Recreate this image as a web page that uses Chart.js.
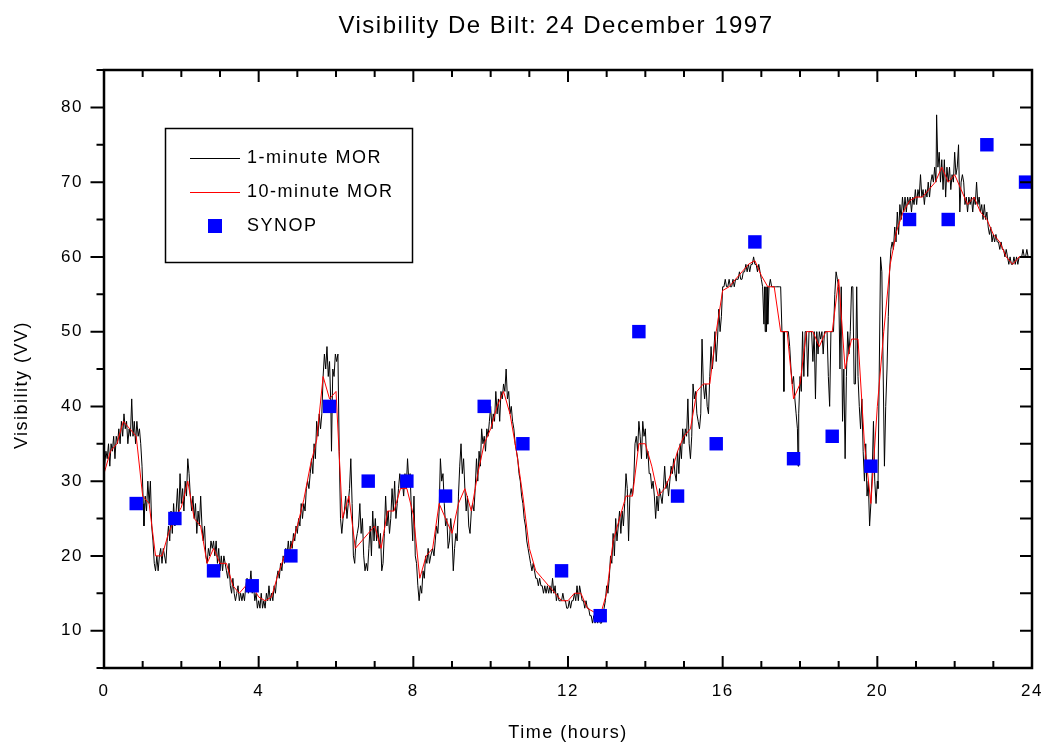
<!DOCTYPE html>
<html>
<head>
<meta charset="utf-8">
<title>Visibility De Bilt</title>
<script src="https://cdn.jsdelivr.net/npm/chart.js@4.4.1/dist/chart.umd.min.js"></script>
<style>
  html, body { margin: 0; padding: 0; background: #fff; }
  canvas { display: block; }
</style>
</head>
<body>
<canvas id="visChart" width="1043" height="742"></canvas>
<script>
// 1-minute MOR: minutes after 00:00 and the visibility at that minute
const minuteMarks = [
  0, 3, 5, 7, 9, 11, 13, 15, 17, 19,
  21, 23, 25, 27, 29, 31, 33, 35, 37, 39,
  41, 43, 45, 47, 49, 51, 53, 55, 57, 59,
  61, 62, 64, 66, 68, 70, 72, 74, 76, 78,
  80, 82, 84, 86, 88, 90, 92, 94, 96, 98,
  100, 102, 104, 106, 108, 110, 112, 114, 116, 118,
  120, 122, 124, 126, 128, 130, 132, 134, 136, 138,
  140, 142, 144, 146, 148, 150, 152, 154, 156, 158,
  160, 162, 164, 166, 168, 170, 172, 174, 176, 178,
  180, 182, 184, 186, 188, 190, 192, 194, 196, 198,
  200, 202, 204, 206, 208, 210, 212, 214, 216, 218,
  220, 222, 224, 226, 228, 230, 232, 234, 236, 238,
  240, 242, 244, 246, 248, 250, 252, 254, 256, 258,
  260, 262, 264, 266, 268, 270, 272, 274, 276, 278,
  280, 282, 284, 286, 288, 290, 292, 294, 296, 298,
  300, 302, 304, 306, 308, 310, 312, 314, 316, 318,
  320, 322, 324, 326, 328, 330, 332, 334, 336, 338,
  340, 342, 344, 346, 348, 350, 352, 353, 355, 357,
  359, 361, 363, 365, 367, 369, 371, 373, 375, 377,
  379, 381, 383, 385, 387, 389, 391, 393, 395, 397,
  399, 401, 403, 405, 407, 409, 411, 413, 415, 417,
  419, 421, 423, 425, 427, 429, 431, 433, 435, 437,
  439, 441, 443, 445, 447, 449, 451, 453, 455, 457,
  459, 461, 463, 465, 467, 469, 471, 473, 475, 477,
  479, 481, 483, 485, 487, 489, 491, 493, 495, 497,
  499, 501, 503, 505, 507, 510, 512, 514, 516, 518,
  520, 522, 524, 526, 528, 530, 532, 534, 536, 538,
  540, 542, 544, 546, 548, 550, 552, 554, 556, 558,
  560, 562, 564, 566, 568, 570, 572, 574, 576, 578,
  580, 582, 584, 586, 588, 590, 592, 594, 596, 598,
  600, 602, 604, 606, 608, 610, 612, 614, 616, 618,
  620, 622, 624, 626, 628, 630, 632, 634, 636, 638,
  640, 642, 644, 646, 648, 650, 652, 654, 656, 658,
  660, 662, 664, 666, 668, 670, 672, 674, 676, 678,
  680, 682, 684, 686, 688, 690, 692, 694, 696, 698,
  700, 702, 704, 706, 708, 710, 712, 714, 716, 718,
  720, 722, 724, 726, 728, 730, 732, 734, 736, 738,
  740, 742, 744, 746, 748, 750, 752, 754, 756, 758,
  760, 762, 764, 766, 768, 770, 772, 774, 776, 778,
  780, 782, 784, 786, 788, 790, 792, 794, 796, 798,
  800, 802, 804, 806, 808, 810, 812, 814, 816, 818,
  820, 822, 824, 826, 828, 830, 832, 834, 836, 838,
  840, 842, 844, 846, 848, 850, 852, 854, 856, 858,
  860, 862, 864, 866, 868, 870, 872, 874, 876, 878,
  880, 882, 884, 886, 888, 890, 892, 894, 896, 898,
  900, 902, 904, 906, 908, 910, 912, 914, 916, 918,
  920, 922, 924, 926, 928, 930, 932, 934, 936, 938,
  940, 942, 944, 946, 948, 950, 952, 954, 956, 958,
  960, 962, 964, 966, 968, 970, 972, 974, 976, 978,
  980, 982, 984, 986, 988, 990, 992, 994, 996, 998,
  1000, 1002, 1004, 1006, 1008, 1010, 1012, 1014, 1016, 1018,
  1020, 1022, 1024, 1025, 1026, 1027, 1028, 1029, 1030, 1032,
  1034, 1036, 1038, 1040, 1042, 1044, 1046, 1048, 1050, 1052,
  1054, 1055, 1056, 1058, 1060, 1062, 1064, 1066, 1068, 1070,
  1072, 1074, 1076, 1077, 1078, 1080, 1082, 1084, 1086, 1088,
  1090, 1092, 1094, 1096, 1098, 1100, 1102, 1104, 1106, 1108,
  1110, 1112, 1114, 1116, 1118, 1120, 1122, 1124, 1126, 1128,
  1130, 1132, 1134, 1136, 1138, 1140, 1142, 1144, 1146, 1148,
  1150, 1152, 1154, 1156, 1158, 1160, 1162, 1164, 1166, 1168,
  1170, 1172, 1174, 1176, 1178, 1180, 1182, 1184, 1186, 1188,
  1190, 1192, 1194, 1196, 1198, 1200, 1201, 1203, 1205, 1207,
  1209, 1211, 1213, 1215, 1217, 1219, 1221, 1223, 1225, 1227,
  1229, 1231, 1233, 1235, 1237, 1239, 1241, 1243, 1245, 1247,
  1249, 1251, 1253, 1255, 1257, 1259, 1261, 1263, 1265, 1267,
  1269, 1271, 1273, 1275, 1277, 1279, 1281, 1283, 1285, 1287,
  1289, 1291, 1292, 1294, 1296, 1298, 1300, 1302, 1304, 1306,
  1308, 1310, 1312, 1314, 1316, 1318, 1320, 1322, 1324, 1326,
  1328, 1330, 1332, 1334, 1336, 1338, 1340, 1342, 1344, 1346,
  1348, 1350, 1352, 1354, 1356, 1358, 1360, 1362, 1364, 1366,
  1368, 1370, 1372, 1374, 1376, 1378, 1380, 1382, 1384, 1386,
  1388, 1390, 1392, 1394, 1396, 1398, 1400, 1402, 1404, 1406,
  1408, 1410, 1412, 1414, 1416, 1418, 1420, 1422, 1424, 1426,
  1428, 1430, 1432, 1434, 1436, 1438, 1440
];
const minuteVis = [
  31, 34, 33, 35, 32, 35, 34, 36, 33, 36,
  35, 37, 35, 38, 36, 39, 37, 38, 35, 37,
  36, 41, 36, 38, 35, 38, 36, 37, 35, 32,
  27, 24, 28, 26, 30, 27, 30, 24, 22, 19,
  18, 20, 18, 20, 21, 19, 21, 20, 19, 22,
  24, 22, 26, 23, 27, 24, 26, 29, 25, 31,
  27, 29, 26, 30, 28, 33, 31, 28, 26, 28,
  25, 27, 23, 26, 24, 28, 24, 22, 24, 20,
  19, 21, 20, 22, 21, 22, 20, 22, 19, 21,
  18, 20, 18, 20, 19, 18, 17, 19, 16, 15,
  17, 15, 14, 15, 16, 14, 15, 14, 15, 14,
  16, 17, 15, 16, 18, 15, 16, 14, 15, 13,
  14, 13, 15, 13, 14, 13, 15, 14, 16, 14,
  15, 14, 16, 15, 17, 18, 17, 19, 18, 20,
  19, 21, 20, 22, 20, 22, 21, 23, 22, 24,
  23, 25, 24, 27, 25, 27, 26, 29, 30, 29,
  31, 33, 31, 35, 33, 38, 36, 39, 37, 39,
  44, 47, 45, 48, 44, 46, 40, 34, 45, 44,
  47, 46, 47, 34, 25, 23, 25, 26, 28, 25,
  27, 29, 33, 27, 20, 19, 22, 23, 24, 27,
  23, 25, 20, 18, 19, 18, 21, 24, 20, 26,
  22, 25, 22, 24, 21, 23, 18, 19, 23, 28,
  24, 26, 23, 25, 29, 26, 30, 25, 27, 29,
  31, 29, 30, 28, 31, 29, 33, 30, 31, 26,
  22, 28, 20, 19, 16, 14, 16, 15, 18, 17,
  20, 19, 21, 19, 20, 21, 20, 22, 24, 23,
  26, 33, 30, 31, 27, 24, 25, 21, 22, 25,
  23, 18, 21, 23, 22, 28, 32, 35, 31, 33,
  29, 26, 28, 24, 23, 26, 27, 26, 29, 33,
  30, 34, 32, 37, 35, 36, 34, 37, 36, 38,
  40, 37, 39, 38, 42, 39, 41, 38, 42, 41,
  43, 42, 45, 41, 42, 39, 40, 38, 37, 35,
  34, 33, 31, 30, 28, 27, 25, 24, 22, 21,
  20, 19, 18, 19, 18, 17, 17, 16, 17, 16,
  16, 15, 16, 15, 16, 15, 16, 15, 17, 15,
  16, 14, 15, 14, 14, 14, 15, 14, 14, 13,
  13, 14, 13, 14, 14, 15, 14, 16, 14, 16,
  15, 14, 14, 13, 14, 13, 13, 12, 12, 11,
  12, 11, 12, 11, 12, 11, 11, 12, 13, 14,
  16, 15, 17, 20, 19, 23, 20, 25, 22, 24,
  26, 23, 26, 24, 27, 31, 29, 22, 28, 29,
  28, 30, 35, 36, 34, 38, 36, 33, 38, 36,
  37, 33, 34, 31, 31, 29, 30, 28, 25, 28,
  26, 29, 28, 27, 29, 32, 29, 30, 28, 30,
  32, 31, 33, 31, 30, 34, 31, 35, 33, 37,
  35, 37, 36, 41, 35, 33, 36, 43, 41, 42,
  39, 38, 37, 39, 49, 43, 41, 43, 40, 39,
  44, 48, 45, 47, 50, 46, 49, 53, 50, 52,
  56, 56, 57, 56, 56, 57, 56, 56, 57, 56,
  57, 57, 57, 58, 57, 57, 58, 58, 59, 58,
  59, 58, 59, 59, 60, 59, 59, 58, 59, 58,
  57, 56, 51, 56, 50, 56, 50, 56, 51, 56,
  57, 56, 56, 56, 56, 56, 56, 56, 56, 50,
  50, 42, 50, 50, 50, 50, 48, 45, 43, 44,
  41, 39, 37, 32, 39, 44, 42, 50, 44, 50,
  50, 44, 50, 50, 50, 46, 50, 41, 50, 47,
  50, 49, 50, 47, 50, 50, 50, 44, 40, 50,
  50, 50, 55, 58, 57, 56, 45, 56, 38, 45,
  33, 44, 50, 47, 50, 56, 56, 43, 43, 56,
  44, 40, 37, 41, 34, 30, 35, 28, 30, 24,
  27, 31, 38, 30, 27, 30, 29, 45, 60, 58,
  45, 32, 40, 45, 52, 58, 61, 62, 61, 64,
  62, 66, 63, 67, 65, 68, 66, 68, 66, 68,
  67, 68, 66, 68, 67, 69, 67, 69, 68, 71,
  68, 69, 67, 69, 68, 70, 68, 70, 71, 70,
  72, 70, 79, 72, 74, 70, 73, 69, 73, 68,
  72, 70, 72, 69, 71, 70, 74, 71, 72, 75,
  66, 70, 71, 70, 67, 68, 66, 68, 67, 68,
  66, 68, 67, 70, 67, 68, 66, 67, 65, 67,
  65, 66, 64, 63, 64, 62, 63, 62, 63, 62,
  62, 61, 62, 61, 61, 60, 61, 60, 59, 60,
  59, 59, 60, 59, 60, 59, 60, 60, 60, 61,
  60, 60, 61, 60, 60, 60, 60
];

// 10-minute MOR, one value every 10 minutes from 00:00 to 24:00 (six per hour)
const tenMinuteVis = [
  31, 34, 35, 38, 37, 36,
  28, 27, 20, 20, 23, 25,
  26.5, 30, 25, 24, 19, 21,
  19, 19, 16, 15, 16, 16,
  14.5, 14, 14.5, 17.5, 20, 21,
  24, 27.5, 32, 35.5, 44, 41,
  42, 25, 28, 21, 22, 23,
  24, 21, 26, 26, 29, 29,
  25.5, 17, 20, 21, 27, 25,
  23, 27, 29, 26, 31, 35,
  37, 40, 42, 39, 34, 28,
  21, 18, 17, 16, 15, 14,
  14, 15, 15, 13, 12.5, 12,
  15, 22, 25, 28, 28, 35,
  35, 32, 28, 29, 31, 34,
  36, 37, 42, 43, 43, 50,
  55.5, 56, 57, 58, 59, 59.5,
  57.5, 56, 56, 50, 50, 41,
  43, 50, 50, 48, 50, 50,
  57, 45, 49, 49, 35, 27,
  40, 50, 59, 63.5, 66, 67.5,
  68, 68, 69, 70, 72, 70,
  71, 69, 67, 68, 66, 65,
  63, 62, 60, 59, 60, 60,
  60
];

// SYNOP reports, taken at ten to the hour
const synopHours = [
  0.833, 1.833, 2.833, 3.833, 4.833, 5.833, 6.833, 7.833,
  8.833, 9.833, 10.833, 11.833, 12.833, 13.833, 14.833, 15.833,
  16.833, 17.833, 18.833, 19.833, 20.833, 21.833, 22.833, 23.833
];
const synopVis = [
  27, 25, 18, 16, 20, 40, 30, 30,
  28, 40, 35, 18, 12, 50, 28, 35,
  62, 33, 36, 32, 65, 65, 75, 70
];

const hourTicks = [0, 4, 8, 12, 16, 20, 24];
const visTicks = [10, 20, 30, 40, 50, 60, 70, 80];

const FONT = '"Liberation Sans", Arial, Helvetica, sans-serif';
Chart.defaults.font.family = FONT;
Chart.defaults.color = '#000';

const oneMinData = minuteMarks.map((m, i) => ({ x: m / 60, y: minuteVis[i] }));
const tenMinData = tenMinuteVis.map((v, i) => ({ x: i / 6, y: v }));
const synopData = synopHours.map((h, i) => ({ x: h, y: synopVis[i] }));

// all text on this chart is slightly spaced out
const spacing = {
  id: 'spacing',
  beforeDraw(chart) {
    chart.ctx.letterSpacing = '1.5px';
  }
};

// boxed frame with tick marks on all four sides
const frame = {
  id: 'frame',
  afterDatasetsDraw(chart) {
    const { ctx, chartArea: a, scales: { x, y } } = chart;
    ctx.save();
    ctx.strokeStyle = '#000';
    ctx.lineWidth = 2;
    ctx.beginPath();
    for (let h = 0; h <= 24; h++) {
      const px = x.getPixelForValue(h);
      const len = h % 4 === 0 ? 12 : 7;
      ctx.moveTo(px, a.bottom);
      ctx.lineTo(px, a.bottom - len);
      ctx.moveTo(px, a.top);
      ctx.lineTo(px, a.top + len);
    }
    for (let v = 5; v <= 85; v += 5) {
      const py = y.getPixelForValue(v);
      ctx.moveTo(a.left, py);
      ctx.lineTo(a.left - (v % 10 === 0 ? 13.5 : 7.5), py);
      ctx.moveTo(a.right, py);
      ctx.lineTo(a.right - 12, py);
    }
    ctx.stroke();
    ctx.lineWidth = 2.5;
    ctx.strokeRect(a.left, a.top, a.right - a.left, a.bottom - a.top);
    ctx.restore();
  }
};

// legend box inside the plot, top left
const legendBox = {
  id: 'legendBox',
  afterDraw(chart) {
    const ctx = chart.ctx;
    const sets = chart.data.datasets;
    const rows = [158, 192, 226];
    ctx.save();
    ctx.fillStyle = '#fff';
    ctx.fillRect(165, 128, 247, 134);
    ctx.strokeStyle = '#000';
    ctx.lineWidth = 1.5;
    ctx.strokeRect(165.5, 128.5, 247, 134);
    ctx.font = '18px ' + FONT;
    ctx.textBaseline = 'middle';
    ctx.textAlign = 'left';
    sets.forEach((ds, i) => {
      const yy = rows[i];
      if (ds.showLine === false) {
        ctx.fillStyle = ds.backgroundColor;
        ctx.fillRect(208, yy - 7, 14, 14);
      } else {
        ctx.strokeStyle = ds.borderColor;
        ctx.lineWidth = 1;
        ctx.beginPath();
        ctx.moveTo(190, yy + 0.5);
        ctx.lineTo(240, yy + 0.5);
        ctx.stroke();
      }
      ctx.fillStyle = '#000';
      ctx.fillText(ds.label, 247, yy);
    });
    ctx.restore();
  }
};

// chart title and the rotated y-axis title
const captions = {
  id: 'captions',
  afterDraw(chart) {
    const ctx = chart.ctx;
    ctx.save();
    ctx.fillStyle = '#000';
    ctx.textAlign = 'center';
    ctx.textBaseline = 'middle';
    ctx.font = '24px ' + FONT;
    ctx.fillText('Visibility De Bilt: 24 December 1997', 556, 26);
    ctx.font = '18px ' + FONT;
    ctx.translate(22, 385);
    ctx.rotate(-Math.PI / 2);
    ctx.fillText('Visibility (VV)', 0, 0);
    ctx.restore();
  }
};

new Chart(document.getElementById('visChart'), {
  type: 'line',
  data: {
    datasets: [
      {
        label: '1-minute MOR',
        data: oneMinData,
        borderColor: '#000',
        borderWidth: 1,
        pointRadius: 0,
        tension: 0,
        order: 3
      },
      {
        label: '10-minute MOR',
        data: tenMinData,
        borderColor: '#ff0000',
        borderWidth: 1,
        pointRadius: 0,
        tension: 0,
        order: 2
      },
      {
        label: 'SYNOP',
        data: synopData,
        showLine: false,
        pointStyle: 'rect',
        pointRadius: 9.5,
        pointBorderWidth: 0,
        backgroundColor: '#0000ff',
        borderColor: '#0000ff',
        order: 1
      }
    ]
  },
  options: {
    responsive: false,
    animation: false,
    events: [],
    layout: { padding: { top: 70, right: 11, bottom: 0, left: 0 } },
    plugins: {
      legend: { display: false },
      tooltip: { enabled: false },
      title: { display: false }
    },
    scales: {
      x: {
        type: 'linear',
        min: 0,
        max: 24,
        grid: { display: false, drawTicks: false },
        border: { display: false },
        afterBuildTicks: s => { s.ticks = hourTicks.map(v => ({ value: v })); },
        afterFit: s => {
          s.height = 74;
          s.paddingLeft = 0;
          s.paddingRight = 0;
        },
        ticks: { color: '#000', padding: 13, font: { size: 17 }, maxRotation: 0, autoSkip: false },
        title: {
          display: true,
          text: 'Time (hours)',
          color: '#000',
          font: { size: 18, lineHeight: 1 },
          padding: 0
        }
      },
      y: {
        type: 'linear',
        min: 5,
        max: 85,
        grid: { display: false, drawTicks: false },
        border: { display: false },
        afterBuildTicks: s => { s.ticks = visTicks.map(v => ({ value: v })); },
        afterFit: s => {
          s.width = 104;
          s.paddingTop = 0;
          s.paddingBottom = 0;
        },
        ticks: { color: '#000', padding: 21, font: { size: 17 } }
      }
    }
  },
  plugins: [spacing, frame, legendBox, captions]
});
</script>
</body>
</html>
